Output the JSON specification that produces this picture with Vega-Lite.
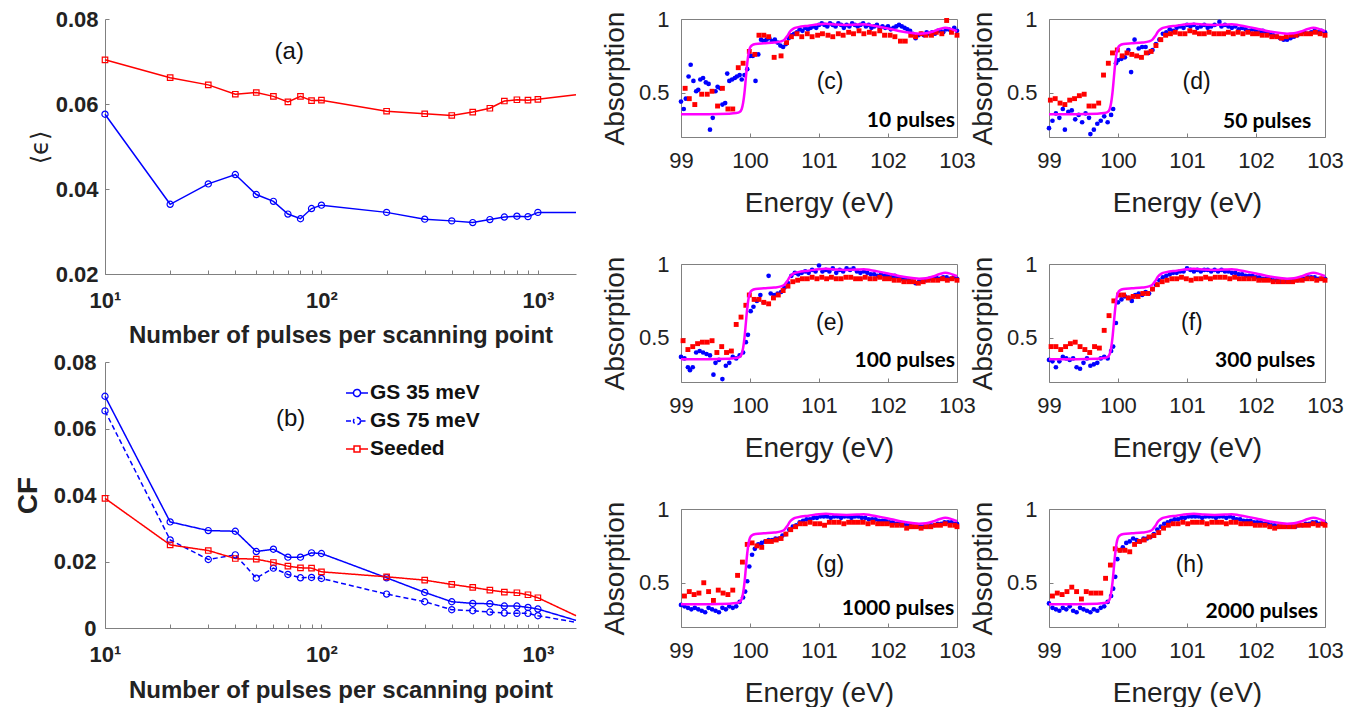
{
"$schema": "https://vega.github.io/schema/vega-lite/v6.json",
"background": "white",
"padding": {"left": 14, "top": 7, "right": 5, "bottom": 5},
"config": {"view": {"stroke": "#808080"}, "axis": {"grid": false, "labelFlush": false, "labelOverlap": false, "labelBound": false}, "font": "Liberation Sans"},
"datasets": {
"a": [
{"n":10,"s":"GS","v":0.0576},{"n":20,"s":"GS","v":0.0364},{"n":30,"s":"GS","v":0.0412},{"n":40,"s":"GS","v":0.0434},{"n":50,"s":"GS","v":0.0387},{"n":60,"s":"GS","v":0.0371},{"n":70,"s":"GS","v":0.0341},{"n":80,"s":"GS","v":0.0330},{"n":90,"s":"GS","v":0.0354},{"n":100,"s":"GS","v":0.0362},{"n":200,"s":"GS","v":0.0345},{"n":300,"s":"GS","v":0.0329},{"n":400,"s":"GS","v":0.0325},{"n":500,"s":"GS","v":0.0321},{"n":600,"s":"GS","v":0.0328},{"n":700,"s":"GS","v":0.0334},{"n":800,"s":"GS","v":0.0336},{"n":900,"s":"GS","v":0.0335},{"n":1000,"s":"GS","v":0.0345},{"n":1500,"s":"GS","v":0.0345},
{"n":10,"s":"Seeded","v":0.0704},{"n":20,"s":"Seeded","v":0.0662},{"n":30,"s":"Seeded","v":0.0645},{"n":40,"s":"Seeded","v":0.0623},{"n":50,"s":"Seeded","v":0.0627},{"n":60,"s":"Seeded","v":0.0618},{"n":70,"s":"Seeded","v":0.0605},{"n":80,"s":"Seeded","v":0.0618},{"n":90,"s":"Seeded","v":0.0608},{"n":100,"s":"Seeded","v":0.0609},{"n":200,"s":"Seeded","v":0.0583},{"n":300,"s":"Seeded","v":0.0577},{"n":400,"s":"Seeded","v":0.0573},{"n":500,"s":"Seeded","v":0.0581},{"n":600,"s":"Seeded","v":0.0590},{"n":700,"s":"Seeded","v":0.0607},{"n":800,"s":"Seeded","v":0.0610},{"n":900,"s":"Seeded","v":0.0609},{"n":1000,"s":"Seeded","v":0.0611},{"n":1500,"s":"Seeded","v":0.0622}
],
"b": [
{"n":10,"s":"GS 35 meV","v":0.0697},{"n":20,"s":"GS 35 meV","v":0.0319},{"n":30,"s":"GS 35 meV","v":0.0293},{"n":40,"s":"GS 35 meV","v":0.0291},{"n":50,"s":"GS 35 meV","v":0.0230},{"n":60,"s":"GS 35 meV","v":0.0237},{"n":70,"s":"GS 35 meV","v":0.0213},{"n":80,"s":"GS 35 meV","v":0.0213},{"n":90,"s":"GS 35 meV","v":0.0226},{"n":100,"s":"GS 35 meV","v":0.0224},{"n":200,"s":"GS 35 meV","v":0.0151},{"n":300,"s":"GS 35 meV","v":0.0107},{"n":400,"s":"GS 35 meV","v":0.0079},{"n":500,"s":"GS 35 meV","v":0.0074},{"n":600,"s":"GS 35 meV","v":0.0073},{"n":700,"s":"GS 35 meV","v":0.0066},{"n":800,"s":"GS 35 meV","v":0.0066},{"n":900,"s":"GS 35 meV","v":0.0062},{"n":1000,"s":"GS 35 meV","v":0.0057},{"n":1500,"s":"GS 35 meV","v":0.0023},
{"n":10,"s":"GS 75 meV","v":0.0653},{"n":20,"s":"GS 75 meV","v":0.0265},{"n":30,"s":"GS 75 meV","v":0.0206},{"n":40,"s":"GS 75 meV","v":0.0220},{"n":50,"s":"GS 75 meV","v":0.0150},{"n":60,"s":"GS 75 meV","v":0.0180},{"n":70,"s":"GS 75 meV","v":0.0161},{"n":80,"s":"GS 75 meV","v":0.0151},{"n":90,"s":"GS 75 meV","v":0.0152},{"n":100,"s":"GS 75 meV","v":0.0149},{"n":200,"s":"GS 75 meV","v":0.0102},{"n":300,"s":"GS 75 meV","v":0.0079},{"n":400,"s":"GS 75 meV","v":0.0055},{"n":500,"s":"GS 75 meV","v":0.0052},{"n":600,"s":"GS 75 meV","v":0.0048},{"n":700,"s":"GS 75 meV","v":0.0045},{"n":800,"s":"GS 75 meV","v":0.0044},{"n":900,"s":"GS 75 meV","v":0.0044},{"n":1000,"s":"GS 75 meV","v":0.0037},{"n":1500,"s":"GS 75 meV","v":0.0017},
{"n":10,"s":"Seeded","v":0.0390},{"n":20,"s":"Seeded","v":0.0250},{"n":30,"s":"Seeded","v":0.0233},{"n":40,"s":"Seeded","v":0.0209},{"n":50,"s":"Seeded","v":0.0207},{"n":60,"s":"Seeded","v":0.0197},{"n":70,"s":"Seeded","v":0.0186},{"n":80,"s":"Seeded","v":0.0181},{"n":90,"s":"Seeded","v":0.0180},{"n":100,"s":"Seeded","v":0.0169},{"n":200,"s":"Seeded","v":0.0154},{"n":300,"s":"Seeded","v":0.0144},{"n":400,"s":"Seeded","v":0.0131},{"n":500,"s":"Seeded","v":0.0122},{"n":600,"s":"Seeded","v":0.0114},{"n":700,"s":"Seeded","v":0.0108},{"n":800,"s":"Seeded","v":0.0106},{"n":900,"s":"Seeded","v":0.0100},{"n":1000,"s":"Seeded","v":0.0091},{"n":1500,"s":"Seeded","v":0.0037}
],
"th": [
{"e":99.00,"v":0.355},{"e":99.40,"v":0.355},{"e":99.70,"v":0.358},{"e":99.80,"v":0.362},{"e":99.85,"v":0.37},{"e":99.88,"v":0.39},{"e":99.90,"v":0.43},{"e":99.92,"v":0.50},{"e":99.94,"v":0.60},{"e":99.96,"v":0.70},{"e":99.98,"v":0.77},{"e":100.00,"v":0.805},{"e":100.03,"v":0.822},{"e":100.08,"v":0.83},{"e":100.20,"v":0.835},{"e":100.35,"v":0.84},{"e":100.45,"v":0.848},{"e":100.50,"v":0.86},{"e":100.54,"v":0.885},{"e":100.58,"v":0.915},{"e":100.63,"v":0.935},{"e":100.70,"v":0.945},{"e":100.85,"v":0.955},{"e":101.00,"v":0.965},{"e":101.10,"v":0.968},{"e":101.25,"v":0.962},{"e":101.40,"v":0.96},{"e":101.55,"v":0.962},{"e":101.65,"v":0.965},{"e":101.75,"v":0.958},{"e":101.90,"v":0.945},{"e":102.05,"v":0.93},{"e":102.20,"v":0.915},{"e":102.35,"v":0.905},{"e":102.45,"v":0.9},{"e":102.55,"v":0.903},{"e":102.65,"v":0.915},{"e":102.75,"v":0.932},{"e":102.83,"v":0.94},{"e":102.90,"v":0.935},{"e":102.96,"v":0.925},{"e":103.00,"v":0.918}
],
"c": [
{"s":"b","e":99.00,"v":0.44},{"s":"b","e":99.04,"v":0.39},{"s":"b","e":99.07,"v":0.46},{"s":"b","e":99.11,"v":0.61},{"s":"b","e":99.14,"v":0.69},{"s":"b","e":99.18,"v":0.58},{"s":"b","e":99.22,"v":0.51},{"s":"b","e":99.25,"v":0.52},{"s":"b","e":99.28,"v":0.59},{"s":"b","e":99.32,"v":0.60},{"s":"b","e":99.36,"v":0.57},{"s":"b","e":99.40,"v":0.56},{"s":"b","e":99.42,"v":0.25},{"s":"b","e":99.46,"v":0.33},{"s":"b","e":99.50,"v":0.51},{"s":"b","e":99.53,"v":0.54},{"s":"b","e":99.57,"v":0.53},{"s":"b","e":99.60,"v":0.42},{"s":"b","e":99.64,"v":0.43},{"s":"b","e":99.67,"v":0.63},{"s":"b","e":99.70,"v":0.58},{"s":"b","e":99.74,"v":0.59},{"s":"b","e":99.78,"v":0.60},{"s":"b","e":99.81,"v":0.61},{"s":"b","e":99.85,"v":0.62},{"s":"b","e":99.88,"v":0.59},{"s":"b","e":99.92,"v":0.62},{"s":"b","e":99.96,"v":0.66},{"s":"b","e":100.00,"v":0.75},{"s":"b","e":100.04,"v":0.75},{"s":"b","e":100.08,"v":0.58},{"s":"b","e":100.12,"v":0.76},{"s":"b","e":100.16,"v":0.86},{"s":"b","e":100.20,"v":0.85},{"s":"b","e":100.24,"v":0.86},{"s":"b","e":100.28,"v":0.87},{"s":"b","e":100.32,"v":0.85},{"s":"b","e":100.36,"v":0.86},{"s":"b","e":100.40,"v":0.84},{"s":"b","e":100.44,"v":0.82},{"s":"b","e":100.48,"v":0.81},{"s":"b","e":100.52,"v":0.83},{"s":"b","e":100.56,"v":0.87},{"s":"b","e":100.60,"v":0.89},{"s":"b","e":100.64,"v":0.90},{"s":"b","e":100.68,"v":0.91},{"s":"b","e":100.72,"v":0.93},{"s":"b","e":100.76,"v":0.92},{"s":"b","e":100.80,"v":0.94},{"s":"b","e":100.84,"v":0.93},{"s":"b","e":100.88,"v":0.94},{"s":"b","e":100.92,"v":0.95},{"s":"b","e":100.96,"v":0.94},{"s":"b","e":101.00,"v":0.96},{"s":"b","e":101.04,"v":0.97},{"s":"b","e":101.08,"v":0.96},{"s":"b","e":101.12,"v":0.95},{"s":"b","e":101.16,"v":0.97},{"s":"b","e":101.20,"v":0.96},{"s":"b","e":101.24,"v":0.95},{"s":"b","e":101.28,"v":0.97},{"s":"b","e":101.32,"v":0.96},{"s":"b","e":101.36,"v":0.94},{"s":"b","e":101.40,"v":0.96},{"s":"b","e":101.44,"v":0.95},{"s":"b","e":101.48,"v":0.97},{"s":"b","e":101.52,"v":0.96},{"s":"b","e":101.56,"v":0.95},{"s":"b","e":101.60,"v":0.96},{"s":"b","e":101.64,"v":0.97},{"s":"b","e":101.68,"v":0.95},{"s":"b","e":101.72,"v":0.96},{"s":"b","e":101.76,"v":0.94},{"s":"b","e":101.80,"v":0.95},{"s":"b","e":101.84,"v":0.96},{"s":"b","e":101.88,"v":0.94},{"s":"b","e":101.92,"v":0.95},{"s":"b","e":101.96,"v":0.94},{"s":"b","e":102.00,"v":0.95},{"s":"b","e":102.04,"v":0.93},{"s":"b","e":102.08,"v":0.94},{"s":"b","e":102.12,"v":0.95},{"s":"b","e":102.16,"v":0.96},{"s":"b","e":102.20,"v":0.95},{"s":"b","e":102.24,"v":0.94},{"s":"b","e":102.28,"v":0.93},{"s":"b","e":102.32,"v":0.92},{"s":"b","e":102.36,"v":0.90},{"s":"b","e":102.40,"v":0.87},{"s":"b","e":102.44,"v":0.89},{"s":"b","e":102.48,"v":0.90},{"s":"b","e":102.52,"v":0.89},{"s":"b","e":102.56,"v":0.91},{"s":"b","e":102.60,"v":0.90},{"s":"b","e":102.64,"v":0.91},{"s":"b","e":102.68,"v":0.90},{"s":"b","e":102.72,"v":0.92},{"s":"b","e":102.76,"v":0.92},{"s":"b","e":102.80,"v":0.91},{"s":"b","e":102.84,"v":0.93},{"s":"b","e":102.88,"v":0.93},{"s":"b","e":102.92,"v":0.92},{"s":"b","e":102.96,"v":0.94},{"s":"b","e":103.00,"v":0.92},
{"s":"r","e":99.06,"v":0.53},{"s":"r","e":99.12,"v":0.46},{"s":"r","e":99.20,"v":0.42},{"s":"r","e":99.30,"v":0.49},{"s":"r","e":99.38,"v":0.49},{"s":"r","e":99.45,"v":0.51},{"s":"r","e":99.53,"v":0.41},{"s":"r","e":99.60,"v":0.53},{"s":"r","e":99.68,"v":0.39},{"s":"r","e":99.75,"v":0.39},{"s":"r","e":99.83,"v":0.67},{"s":"r","e":99.90,"v":0.70},{"s":"r","e":99.99,"v":0.78},{"s":"r","e":100.07,"v":0.76},{"s":"r","e":100.13,"v":0.89},{"s":"r","e":100.20,"v":0.89},{"s":"r","e":100.27,"v":0.88},{"s":"r","e":100.35,"v":0.74},{"s":"r","e":100.45,"v":0.75},{"s":"r","e":100.53,"v":0.84},{"s":"r","e":100.60,"v":0.88},{"s":"r","e":100.68,"v":0.90},{"s":"r","e":100.75,"v":0.88},{"s":"r","e":100.83,"v":0.90},{"s":"r","e":100.90,"v":0.88},{"s":"r","e":100.98,"v":0.89},{"s":"r","e":101.05,"v":0.90},{"s":"r","e":101.13,"v":0.89},{"s":"r","e":101.20,"v":0.88},{"s":"r","e":101.28,"v":0.90},{"s":"r","e":101.35,"v":0.89},{"s":"r","e":101.43,"v":0.91},{"s":"r","e":101.50,"v":0.90},{"s":"r","e":101.58,"v":0.92},{"s":"r","e":101.65,"v":0.90},{"s":"r","e":101.73,"v":0.91},{"s":"r","e":101.80,"v":0.90},{"s":"r","e":101.88,"v":0.92},{"s":"r","e":101.95,"v":0.89},{"s":"r","e":102.03,"v":0.89},{"s":"r","e":102.10,"v":0.88},{"s":"r","e":102.18,"v":0.85},{"s":"r","e":102.25,"v":0.85},{"s":"r","e":102.33,"v":0.89},{"s":"r","e":102.40,"v":0.88},{"s":"r","e":102.48,"v":0.90},{"s":"r","e":102.55,"v":0.89},{"s":"r","e":102.63,"v":0.89},{"s":"r","e":102.70,"v":0.91},{"s":"r","e":102.78,"v":0.90},{"s":"r","e":102.85,"v":0.99},{"s":"r","e":102.92,"v":0.91},{"s":"r","e":103.00,"v":0.89}
],
"d": [
{"s":"b","e":99.00,"v":0.26},{"s":"b","e":99.05,"v":0.31},{"s":"b","e":99.10,"v":0.36},{"s":"b","e":99.15,"v":0.33},{"s":"b","e":99.20,"v":0.39},{"s":"b","e":99.23,"v":0.25},{"s":"b","e":99.28,"v":0.37},{"s":"b","e":99.33,"v":0.38},{"s":"b","e":99.38,"v":0.32},{"s":"b","e":99.43,"v":0.35},{"s":"b","e":99.48,"v":0.30},{"s":"b","e":99.53,"v":0.36},{"s":"b","e":99.58,"v":0.33},{"s":"b","e":99.60,"v":0.22},{"s":"b","e":99.65,"v":0.25},{"s":"b","e":99.70,"v":0.29},{"s":"b","e":99.75,"v":0.31},{"s":"b","e":99.80,"v":0.34},{"s":"b","e":99.85,"v":0.30},{"s":"b","e":99.90,"v":0.35},{"s":"b","e":99.93,"v":0.39},{"s":"b","e":99.97,"v":0.70},{"s":"b","e":100.00,"v":0.72},{"s":"b","e":100.05,"v":0.73},{"s":"b","e":100.10,"v":0.74},{"s":"b","e":100.15,"v":0.79},{"s":"b","e":100.19,"v":0.64},{"s":"b","e":100.24,"v":0.86},{"s":"b","e":100.30,"v":0.80},{"s":"b","e":100.35,"v":0.81},{"s":"b","e":100.40,"v":0.81},{"s":"b","e":100.44,"v":0.77},{"s":"b","e":100.50,"v":0.79},{"s":"b","e":100.55,"v":0.83},{"s":"b","e":100.60,"v":0.86},{"s":"b","e":100.65,"v":0.90},{"s":"b","e":100.70,"v":0.91},{"s":"b","e":100.75,"v":0.93},{"s":"b","e":100.80,"v":0.92},{"s":"b","e":100.85,"v":0.94},{"s":"b","e":100.90,"v":0.95},{"s":"b","e":100.95,"v":0.94},{"s":"b","e":101.00,"v":0.96},{"s":"b","e":101.05,"v":0.95},{"s":"b","e":101.10,"v":0.96},{"s":"b","e":101.15,"v":0.94},{"s":"b","e":101.20,"v":0.95},{"s":"b","e":101.25,"v":0.96},{"s":"b","e":101.30,"v":0.94},{"s":"b","e":101.35,"v":0.95},{"s":"b","e":101.40,"v":0.96},{"s":"b","e":101.47,"v":0.98},{"s":"b","e":101.50,"v":0.95},{"s":"b","e":101.55,"v":0.96},{"s":"b","e":101.60,"v":0.95},{"s":"b","e":101.65,"v":0.94},{"s":"b","e":101.70,"v":0.95},{"s":"b","e":101.75,"v":0.93},{"s":"b","e":101.80,"v":0.94},{"s":"b","e":101.85,"v":0.93},{"s":"b","e":101.90,"v":0.92},{"s":"b","e":101.95,"v":0.93},{"s":"b","e":102.00,"v":0.92},{"s":"b","e":102.05,"v":0.91},{"s":"b","e":102.10,"v":0.92},{"s":"b","e":102.15,"v":0.91},{"s":"b","e":102.20,"v":0.90},{"s":"b","e":102.25,"v":0.89},{"s":"b","e":102.30,"v":0.88},{"s":"b","e":102.35,"v":0.87},{"s":"b","e":102.40,"v":0.86},{"s":"b","e":102.45,"v":0.86},{"s":"b","e":102.50,"v":0.87},{"s":"b","e":102.55,"v":0.88},{"s":"b","e":102.60,"v":0.89},{"s":"b","e":102.65,"v":0.90},{"s":"b","e":102.70,"v":0.91},{"s":"b","e":102.75,"v":0.90},{"s":"b","e":102.80,"v":0.91},{"s":"b","e":102.85,"v":0.92},{"s":"b","e":102.90,"v":0.91},{"s":"b","e":102.95,"v":0.92},{"s":"b","e":103.00,"v":0.91},
{"s":"r","e":99.02,"v":0.45},{"s":"r","e":99.09,"v":0.46},{"s":"r","e":99.16,"v":0.43},{"s":"r","e":99.23,"v":0.42},{"s":"r","e":99.30,"v":0.45},{"s":"r","e":99.37,"v":0.46},{"s":"r","e":99.44,"v":0.48},{"s":"r","e":99.51,"v":0.49},{"s":"r","e":99.58,"v":0.41},{"s":"r","e":99.65,"v":0.41},{"s":"r","e":99.72,"v":0.43},{"s":"r","e":99.79,"v":0.62},{"s":"r","e":99.86,"v":0.70},{"s":"r","e":99.92,"v":0.77},{"s":"r","e":99.99,"v":0.79},{"s":"r","e":100.06,"v":0.75},{"s":"r","e":100.13,"v":0.77},{"s":"r","e":100.20,"v":0.76},{"s":"r","e":100.27,"v":0.75},{"s":"r","e":100.34,"v":0.74},{"s":"r","e":100.41,"v":0.77},{"s":"r","e":100.48,"v":0.78},{"s":"r","e":100.55,"v":0.82},{"s":"r","e":100.62,"v":0.86},{"s":"r","e":100.69,"v":0.89},{"s":"r","e":100.76,"v":0.90},{"s":"r","e":100.83,"v":0.91},{"s":"r","e":100.90,"v":0.90},{"s":"r","e":100.97,"v":0.90},{"s":"r","e":101.04,"v":0.92},{"s":"r","e":101.11,"v":0.91},{"s":"r","e":101.18,"v":0.90},{"s":"r","e":101.25,"v":0.90},{"s":"r","e":101.32,"v":0.91},{"s":"r","e":101.39,"v":0.90},{"s":"r","e":101.46,"v":0.90},{"s":"r","e":101.53,"v":0.90},{"s":"r","e":101.60,"v":0.91},{"s":"r","e":101.67,"v":0.90},{"s":"r","e":101.74,"v":0.91},{"s":"r","e":101.81,"v":0.90},{"s":"r","e":101.88,"v":0.91},{"s":"r","e":101.95,"v":0.90},{"s":"r","e":102.02,"v":0.90},{"s":"r","e":102.09,"v":0.89},{"s":"r","e":102.16,"v":0.89},{"s":"r","e":102.23,"v":0.88},{"s":"r","e":102.30,"v":0.88},{"s":"r","e":102.37,"v":0.87},{"s":"r","e":102.44,"v":0.88},{"s":"r","e":102.51,"v":0.89},{"s":"r","e":102.58,"v":0.89},{"s":"r","e":102.65,"v":0.90},{"s":"r","e":102.72,"v":0.90},{"s":"r","e":102.79,"v":0.90},{"s":"r","e":102.86,"v":0.91},{"s":"r","e":102.93,"v":0.90},{"s":"r","e":103.00,"v":0.89}
],
"e": [
{"s":"b","e":99.00,"v":0.37},{"s":"b","e":99.05,"v":0.36},{"s":"b","e":99.10,"v":0.30},{"s":"b","e":99.13,"v":0.28},{"s":"b","e":99.17,"v":0.30},{"s":"b","e":99.22,"v":0.40},{"s":"b","e":99.27,"v":0.41},{"s":"b","e":99.32,"v":0.40},{"s":"b","e":99.37,"v":0.39},{"s":"b","e":99.42,"v":0.38},{"s":"b","e":99.47,"v":0.25},{"s":"b","e":99.50,"v":0.33},{"s":"b","e":99.55,"v":0.35},{"s":"b","e":99.60,"v":0.22},{"s":"b","e":99.65,"v":0.31},{"s":"b","e":99.70,"v":0.33},{"s":"b","e":99.75,"v":0.37},{"s":"b","e":99.80,"v":0.36},{"s":"b","e":99.85,"v":0.38},{"s":"b","e":99.90,"v":0.40},{"s":"b","e":99.94,"v":0.47},{"s":"b","e":99.97,"v":0.52},{"s":"b","e":100.01,"v":0.68},{"s":"b","e":100.05,"v":0.71},{"s":"b","e":100.10,"v":0.75},{"s":"b","e":100.15,"v":0.79},{"s":"b","e":100.20,"v":0.74},{"s":"b","e":100.27,"v":0.92},{"s":"b","e":100.30,"v":0.80},{"s":"b","e":100.35,"v":0.79},{"s":"b","e":100.40,"v":0.80},{"s":"b","e":100.45,"v":0.81},{"s":"b","e":100.50,"v":0.84},{"s":"b","e":100.55,"v":0.87},{"s":"b","e":100.60,"v":0.92},{"s":"b","e":100.65,"v":0.94},{"s":"b","e":100.70,"v":0.93},{"s":"b","e":100.75,"v":0.94},{"s":"b","e":100.80,"v":0.95},{"s":"b","e":100.85,"v":0.94},{"s":"b","e":100.90,"v":0.96},{"s":"b","e":100.95,"v":0.95},{"s":"b","e":101.00,"v":0.99},{"s":"b","e":101.05,"v":0.95},{"s":"b","e":101.10,"v":0.96},{"s":"b","e":101.15,"v":0.95},{"s":"b","e":101.20,"v":0.97},{"s":"b","e":101.25,"v":0.94},{"s":"b","e":101.30,"v":0.96},{"s":"b","e":101.35,"v":0.95},{"s":"b","e":101.40,"v":0.97},{"s":"b","e":101.45,"v":0.96},{"s":"b","e":101.50,"v":0.97},{"s":"b","e":101.55,"v":0.95},{"s":"b","e":101.60,"v":0.94},{"s":"b","e":101.65,"v":0.95},{"s":"b","e":101.70,"v":0.94},{"s":"b","e":101.75,"v":0.93},{"s":"b","e":101.80,"v":0.93},{"s":"b","e":101.85,"v":0.92},{"s":"b","e":101.90,"v":0.93},{"s":"b","e":101.95,"v":0.92},{"s":"b","e":102.00,"v":0.92},{"s":"b","e":102.05,"v":0.91},{"s":"b","e":102.10,"v":0.92},{"s":"b","e":102.15,"v":0.91},{"s":"b","e":102.20,"v":0.90},{"s":"b","e":102.25,"v":0.90},{"s":"b","e":102.30,"v":0.89},{"s":"b","e":102.35,"v":0.88},{"s":"b","e":102.40,"v":0.87},{"s":"b","e":102.45,"v":0.88},{"s":"b","e":102.50,"v":0.88},{"s":"b","e":102.55,"v":0.89},{"s":"b","e":102.60,"v":0.90},{"s":"b","e":102.65,"v":0.90},{"s":"b","e":102.70,"v":0.91},{"s":"b","e":102.75,"v":0.90},{"s":"b","e":102.80,"v":0.91},{"s":"b","e":102.85,"v":0.91},{"s":"b","e":102.90,"v":0.90},{"s":"b","e":102.95,"v":0.91},{"s":"b","e":103.00,"v":0.90},
{"s":"r","e":99.03,"v":0.48},{"s":"r","e":99.10,"v":0.42},{"s":"r","e":99.17,"v":0.44},{"s":"r","e":99.24,"v":0.46},{"s":"r","e":99.31,"v":0.47},{"s":"r","e":99.38,"v":0.47},{"s":"r","e":99.45,"v":0.48},{"s":"r","e":99.52,"v":0.40},{"s":"r","e":99.59,"v":0.44},{"s":"r","e":99.66,"v":0.40},{"s":"r","e":99.73,"v":0.41},{"s":"r","e":99.80,"v":0.59},{"s":"r","e":99.87,"v":0.64},{"s":"r","e":99.94,"v":0.72},{"s":"r","e":99.99,"v":0.79},{"s":"r","e":100.06,"v":0.76},{"s":"r","e":100.13,"v":0.76},{"s":"r","e":100.20,"v":0.74},{"s":"r","e":100.27,"v":0.73},{"s":"r","e":100.34,"v":0.77},{"s":"r","e":100.41,"v":0.79},{"s":"r","e":100.48,"v":0.82},{"s":"r","e":100.55,"v":0.85},{"s":"r","e":100.62,"v":0.88},{"s":"r","e":100.69,"v":0.89},{"s":"r","e":100.76,"v":0.90},{"s":"r","e":100.83,"v":0.90},{"s":"r","e":100.90,"v":0.91},{"s":"r","e":100.97,"v":0.90},{"s":"r","e":101.04,"v":0.91},{"s":"r","e":101.11,"v":0.90},{"s":"r","e":101.18,"v":0.91},{"s":"r","e":101.25,"v":0.90},{"s":"r","e":101.32,"v":0.90},{"s":"r","e":101.39,"v":0.91},{"s":"r","e":101.46,"v":0.91},{"s":"r","e":101.53,"v":0.90},{"s":"r","e":101.60,"v":0.90},{"s":"r","e":101.67,"v":0.91},{"s":"r","e":101.74,"v":0.90},{"s":"r","e":101.81,"v":0.90},{"s":"r","e":101.88,"v":0.91},{"s":"r","e":101.95,"v":0.90},{"s":"r","e":102.02,"v":0.90},{"s":"r","e":102.09,"v":0.89},{"s":"r","e":102.16,"v":0.89},{"s":"r","e":102.23,"v":0.88},{"s":"r","e":102.30,"v":0.88},{"s":"r","e":102.37,"v":0.88},{"s":"r","e":102.44,"v":0.87},{"s":"r","e":102.51,"v":0.88},{"s":"r","e":102.58,"v":0.89},{"s":"r","e":102.65,"v":0.89},{"s":"r","e":102.72,"v":0.89},{"s":"r","e":102.79,"v":0.90},{"s":"r","e":102.86,"v":0.89},{"s":"r","e":102.93,"v":0.90},{"s":"r","e":103.00,"v":0.89}
],
"f": [
{"s":"b","e":99.00,"v":0.35},{"s":"b","e":99.05,"v":0.34},{"s":"b","e":99.10,"v":0.30},{"s":"b","e":99.15,"v":0.34},{"s":"b","e":99.20,"v":0.37},{"s":"b","e":99.25,"v":0.36},{"s":"b","e":99.30,"v":0.35},{"s":"b","e":99.35,"v":0.36},{"s":"b","e":99.40,"v":0.30},{"s":"b","e":99.45,"v":0.29},{"s":"b","e":99.50,"v":0.33},{"s":"b","e":99.55,"v":0.36},{"s":"b","e":99.60,"v":0.31},{"s":"b","e":99.65,"v":0.32},{"s":"b","e":99.70,"v":0.33},{"s":"b","e":99.75,"v":0.36},{"s":"b","e":99.80,"v":0.37},{"s":"b","e":99.85,"v":0.36},{"s":"b","e":99.90,"v":0.41},{"s":"b","e":99.93,"v":0.44},{"s":"b","e":99.97,"v":0.60},{"s":"b","e":100.00,"v":0.74},{"s":"b","e":100.05,"v":0.76},{"s":"b","e":100.10,"v":0.78},{"s":"b","e":100.15,"v":0.77},{"s":"b","e":100.20,"v":0.75},{"s":"b","e":100.25,"v":0.79},{"s":"b","e":100.30,"v":0.80},{"s":"b","e":100.35,"v":0.79},{"s":"b","e":100.40,"v":0.81},{"s":"b","e":100.45,"v":0.80},{"s":"b","e":100.50,"v":0.83},{"s":"b","e":100.55,"v":0.86},{"s":"b","e":100.60,"v":0.89},{"s":"b","e":100.65,"v":0.91},{"s":"b","e":100.70,"v":0.92},{"s":"b","e":100.75,"v":0.93},{"s":"b","e":100.80,"v":0.94},{"s":"b","e":100.85,"v":0.94},{"s":"b","e":100.90,"v":0.95},{"s":"b","e":100.95,"v":0.95},{"s":"b","e":101.00,"v":0.97},{"s":"b","e":101.05,"v":0.96},{"s":"b","e":101.10,"v":0.95},{"s":"b","e":101.15,"v":0.96},{"s":"b","e":101.20,"v":0.95},{"s":"b","e":101.25,"v":0.96},{"s":"b","e":101.30,"v":0.96},{"s":"b","e":101.35,"v":0.95},{"s":"b","e":101.40,"v":0.96},{"s":"b","e":101.45,"v":0.95},{"s":"b","e":101.50,"v":0.96},{"s":"b","e":101.55,"v":0.95},{"s":"b","e":101.60,"v":0.95},{"s":"b","e":101.65,"v":0.94},{"s":"b","e":101.70,"v":0.94},{"s":"b","e":101.75,"v":0.93},{"s":"b","e":101.80,"v":0.93},{"s":"b","e":101.85,"v":0.92},{"s":"b","e":101.90,"v":0.92},{"s":"b","e":101.95,"v":0.92},{"s":"b","e":102.00,"v":0.91},{"s":"b","e":102.05,"v":0.91},{"s":"b","e":102.10,"v":0.90},{"s":"b","e":102.15,"v":0.90},{"s":"b","e":102.20,"v":0.90},{"s":"b","e":102.25,"v":0.89},{"s":"b","e":102.30,"v":0.89},{"s":"b","e":102.35,"v":0.88},{"s":"b","e":102.40,"v":0.88},{"s":"b","e":102.45,"v":0.88},{"s":"b","e":102.50,"v":0.88},{"s":"b","e":102.55,"v":0.89},{"s":"b","e":102.60,"v":0.89},{"s":"b","e":102.65,"v":0.90},{"s":"b","e":102.70,"v":0.90},{"s":"b","e":102.75,"v":0.91},{"s":"b","e":102.80,"v":0.91},{"s":"b","e":102.85,"v":0.91},{"s":"b","e":102.90,"v":0.90},{"s":"b","e":102.95,"v":0.90},{"s":"b","e":103.00,"v":0.90},
{"s":"r","e":99.03,"v":0.44},{"s":"r","e":99.10,"v":0.44},{"s":"r","e":99.17,"v":0.42},{"s":"r","e":99.24,"v":0.44},{"s":"r","e":99.31,"v":0.46},{"s":"r","e":99.38,"v":0.47},{"s":"r","e":99.45,"v":0.44},{"s":"r","e":99.52,"v":0.42},{"s":"r","e":99.59,"v":0.40},{"s":"r","e":99.66,"v":0.44},{"s":"r","e":99.73,"v":0.43},{"s":"r","e":99.80,"v":0.55},{"s":"r","e":99.87,"v":0.65},{"s":"r","e":99.94,"v":0.75},{"s":"r","e":100.01,"v":0.79},{"s":"r","e":100.08,"v":0.79},{"s":"r","e":100.15,"v":0.77},{"s":"r","e":100.22,"v":0.78},{"s":"r","e":100.29,"v":0.78},{"s":"r","e":100.36,"v":0.80},{"s":"r","e":100.43,"v":0.80},{"s":"r","e":100.50,"v":0.83},{"s":"r","e":100.57,"v":0.86},{"s":"r","e":100.64,"v":0.88},{"s":"r","e":100.71,"v":0.89},{"s":"r","e":100.78,"v":0.90},{"s":"r","e":100.85,"v":0.90},{"s":"r","e":100.92,"v":0.91},{"s":"r","e":100.99,"v":0.90},{"s":"r","e":101.06,"v":0.89},{"s":"r","e":101.13,"v":0.90},{"s":"r","e":101.20,"v":0.90},{"s":"r","e":101.27,"v":0.91},{"s":"r","e":101.34,"v":0.90},{"s":"r","e":101.41,"v":0.91},{"s":"r","e":101.48,"v":0.91},{"s":"r","e":101.55,"v":0.91},{"s":"r","e":101.62,"v":0.90},{"s":"r","e":101.69,"v":0.91},{"s":"r","e":101.76,"v":0.90},{"s":"r","e":101.83,"v":0.90},{"s":"r","e":101.90,"v":0.90},{"s":"r","e":101.97,"v":0.90},{"s":"r","e":102.04,"v":0.89},{"s":"r","e":102.11,"v":0.89},{"s":"r","e":102.18,"v":0.89},{"s":"r","e":102.25,"v":0.88},{"s":"r","e":102.32,"v":0.88},{"s":"r","e":102.39,"v":0.88},{"s":"r","e":102.46,"v":0.88},{"s":"r","e":102.53,"v":0.88},{"s":"r","e":102.60,"v":0.89},{"s":"r","e":102.67,"v":0.89},{"s":"r","e":102.74,"v":0.90},{"s":"r","e":102.81,"v":0.90},{"s":"r","e":102.88,"v":0.89},{"s":"r","e":102.95,"v":0.90},{"s":"r","e":103.00,"v":0.89}
],
"g": [
{"s":"b","e":99.00,"v":0.35},{"s":"b","e":99.05,"v":0.34},{"s":"b","e":99.10,"v":0.33},{"s":"b","e":99.15,"v":0.32},{"s":"b","e":99.20,"v":0.33},{"s":"b","e":99.25,"v":0.32},{"s":"b","e":99.30,"v":0.31},{"s":"b","e":99.35,"v":0.30},{"s":"b","e":99.40,"v":0.33},{"s":"b","e":99.45,"v":0.32},{"s":"b","e":99.50,"v":0.31},{"s":"b","e":99.55,"v":0.30},{"s":"b","e":99.60,"v":0.33},{"s":"b","e":99.65,"v":0.32},{"s":"b","e":99.70,"v":0.34},{"s":"b","e":99.75,"v":0.33},{"s":"b","e":99.80,"v":0.34},{"s":"b","e":99.85,"v":0.37},{"s":"b","e":99.90,"v":0.40},{"s":"b","e":99.93,"v":0.44},{"s":"b","e":99.96,"v":0.51},{"s":"b","e":99.99,"v":0.61},{"s":"b","e":100.03,"v":0.69},{"s":"b","e":100.07,"v":0.73},{"s":"b","e":100.12,"v":0.76},{"s":"b","e":100.17,"v":0.77},{"s":"b","e":100.22,"v":0.78},{"s":"b","e":100.27,"v":0.79},{"s":"b","e":100.32,"v":0.79},{"s":"b","e":100.37,"v":0.80},{"s":"b","e":100.42,"v":0.80},{"s":"b","e":100.47,"v":0.82},{"s":"b","e":100.52,"v":0.83},{"s":"b","e":100.57,"v":0.86},{"s":"b","e":100.62,"v":0.88},{"s":"b","e":100.67,"v":0.89},{"s":"b","e":100.72,"v":0.91},{"s":"b","e":100.77,"v":0.92},{"s":"b","e":100.82,"v":0.93},{"s":"b","e":100.87,"v":0.93},{"s":"b","e":100.92,"v":0.94},{"s":"b","e":100.97,"v":0.94},{"s":"b","e":101.02,"v":0.95},{"s":"b","e":101.07,"v":0.95},{"s":"b","e":101.12,"v":0.95},{"s":"b","e":101.17,"v":0.94},{"s":"b","e":101.22,"v":0.95},{"s":"b","e":101.27,"v":0.95},{"s":"b","e":101.32,"v":0.94},{"s":"b","e":101.37,"v":0.95},{"s":"b","e":101.42,"v":0.95},{"s":"b","e":101.47,"v":0.94},{"s":"b","e":101.52,"v":0.95},{"s":"b","e":101.57,"v":0.95},{"s":"b","e":101.62,"v":0.94},{"s":"b","e":101.67,"v":0.94},{"s":"b","e":101.72,"v":0.93},{"s":"b","e":101.77,"v":0.93},{"s":"b","e":101.82,"v":0.93},{"s":"b","e":101.87,"v":0.92},{"s":"b","e":101.92,"v":0.92},{"s":"b","e":101.97,"v":0.92},{"s":"b","e":102.02,"v":0.91},{"s":"b","e":102.07,"v":0.91},{"s":"b","e":102.12,"v":0.90},{"s":"b","e":102.17,"v":0.90},{"s":"b","e":102.22,"v":0.90},{"s":"b","e":102.27,"v":0.89},{"s":"b","e":102.32,"v":0.89},{"s":"b","e":102.37,"v":0.88},{"s":"b","e":102.42,"v":0.88},{"s":"b","e":102.47,"v":0.88},{"s":"b","e":102.52,"v":0.88},{"s":"b","e":102.57,"v":0.88},{"s":"b","e":102.62,"v":0.89},{"s":"b","e":102.67,"v":0.89},{"s":"b","e":102.72,"v":0.90},{"s":"b","e":102.77,"v":0.90},{"s":"b","e":102.82,"v":0.91},{"s":"b","e":102.87,"v":0.91},{"s":"b","e":102.92,"v":0.91},{"s":"b","e":102.97,"v":0.90},{"s":"b","e":103.00,"v":0.90},
{"s":"r","e":99.05,"v":0.41},{"s":"r","e":99.12,"v":0.44},{"s":"r","e":99.19,"v":0.42},{"s":"r","e":99.26,"v":0.43},{"s":"r","e":99.33,"v":0.50},{"s":"r","e":99.40,"v":0.44},{"s":"r","e":99.47,"v":0.38},{"s":"r","e":99.54,"v":0.45},{"s":"r","e":99.61,"v":0.43},{"s":"r","e":99.68,"v":0.42},{"s":"r","e":99.75,"v":0.45},{"s":"r","e":99.82,"v":0.55},{"s":"r","e":99.89,"v":0.64},{"s":"r","e":99.96,"v":0.76},{"s":"r","e":100.03,"v":0.77},{"s":"r","e":100.10,"v":0.75},{"s":"r","e":100.17,"v":0.74},{"s":"r","e":100.24,"v":0.78},{"s":"r","e":100.31,"v":0.78},{"s":"r","e":100.38,"v":0.79},{"s":"r","e":100.45,"v":0.80},{"s":"r","e":100.52,"v":0.83},{"s":"r","e":100.59,"v":0.86},{"s":"r","e":100.66,"v":0.88},{"s":"r","e":100.73,"v":0.90},{"s":"r","e":100.80,"v":0.90},{"s":"r","e":100.87,"v":0.91},{"s":"r","e":100.94,"v":0.90},{"s":"r","e":101.01,"v":0.90},{"s":"r","e":101.08,"v":0.89},{"s":"r","e":101.15,"v":0.91},{"s":"r","e":101.22,"v":0.91},{"s":"r","e":101.29,"v":0.91},{"s":"r","e":101.36,"v":0.90},{"s":"r","e":101.43,"v":0.91},{"s":"r","e":101.50,"v":0.91},{"s":"r","e":101.57,"v":0.91},{"s":"r","e":101.64,"v":0.91},{"s":"r","e":101.71,"v":0.90},{"s":"r","e":101.78,"v":0.91},{"s":"r","e":101.85,"v":0.90},{"s":"r","e":101.92,"v":0.90},{"s":"r","e":101.99,"v":0.90},{"s":"r","e":102.06,"v":0.89},{"s":"r","e":102.13,"v":0.89},{"s":"r","e":102.20,"v":0.89},{"s":"r","e":102.27,"v":0.87},{"s":"r","e":102.34,"v":0.88},{"s":"r","e":102.41,"v":0.88},{"s":"r","e":102.48,"v":0.87},{"s":"r","e":102.55,"v":0.88},{"s":"r","e":102.62,"v":0.88},{"s":"r","e":102.69,"v":0.89},{"s":"r","e":102.76,"v":0.89},{"s":"r","e":102.83,"v":0.90},{"s":"r","e":102.90,"v":0.89},{"s":"r","e":102.97,"v":0.89},{"s":"r","e":103.00,"v":0.88}
],
"h": [
{"s":"b","e":99.00,"v":0.36},{"s":"b","e":99.05,"v":0.33},{"s":"b","e":99.10,"v":0.32},{"s":"b","e":99.15,"v":0.31},{"s":"b","e":99.20,"v":0.33},{"s":"b","e":99.25,"v":0.32},{"s":"b","e":99.30,"v":0.34},{"s":"b","e":99.35,"v":0.31},{"s":"b","e":99.40,"v":0.30},{"s":"b","e":99.45,"v":0.33},{"s":"b","e":99.50,"v":0.32},{"s":"b","e":99.55,"v":0.31},{"s":"b","e":99.60,"v":0.30},{"s":"b","e":99.65,"v":0.32},{"s":"b","e":99.70,"v":0.31},{"s":"b","e":99.75,"v":0.33},{"s":"b","e":99.80,"v":0.34},{"s":"b","e":99.85,"v":0.37},{"s":"b","e":99.90,"v":0.41},{"s":"b","e":99.93,"v":0.46},{"s":"b","e":99.96,"v":0.54},{"s":"b","e":99.99,"v":0.66},{"s":"b","e":100.03,"v":0.72},{"s":"b","e":100.07,"v":0.74},{"s":"b","e":100.12,"v":0.77},{"s":"b","e":100.17,"v":0.78},{"s":"b","e":100.22,"v":0.80},{"s":"b","e":100.27,"v":0.79},{"s":"b","e":100.32,"v":0.78},{"s":"b","e":100.37,"v":0.80},{"s":"b","e":100.42,"v":0.80},{"s":"b","e":100.47,"v":0.81},{"s":"b","e":100.52,"v":0.83},{"s":"b","e":100.57,"v":0.86},{"s":"b","e":100.62,"v":0.88},{"s":"b","e":100.67,"v":0.90},{"s":"b","e":100.72,"v":0.91},{"s":"b","e":100.77,"v":0.92},{"s":"b","e":100.82,"v":0.93},{"s":"b","e":100.87,"v":0.93},{"s":"b","e":100.92,"v":0.94},{"s":"b","e":100.97,"v":0.94},{"s":"b","e":101.02,"v":0.95},{"s":"b","e":101.07,"v":0.95},{"s":"b","e":101.12,"v":0.95},{"s":"b","e":101.17,"v":0.95},{"s":"b","e":101.22,"v":0.94},{"s":"b","e":101.27,"v":0.95},{"s":"b","e":101.32,"v":0.95},{"s":"b","e":101.37,"v":0.95},{"s":"b","e":101.42,"v":0.94},{"s":"b","e":101.47,"v":0.95},{"s":"b","e":101.52,"v":0.95},{"s":"b","e":101.57,"v":0.94},{"s":"b","e":101.62,"v":0.95},{"s":"b","e":101.67,"v":0.94},{"s":"b","e":101.72,"v":0.93},{"s":"b","e":101.77,"v":0.93},{"s":"b","e":101.82,"v":0.92},{"s":"b","e":101.87,"v":0.92},{"s":"b","e":101.92,"v":0.92},{"s":"b","e":101.97,"v":0.91},{"s":"b","e":102.02,"v":0.91},{"s":"b","e":102.07,"v":0.91},{"s":"b","e":102.12,"v":0.90},{"s":"b","e":102.17,"v":0.90},{"s":"b","e":102.22,"v":0.89},{"s":"b","e":102.27,"v":0.89},{"s":"b","e":102.32,"v":0.88},{"s":"b","e":102.37,"v":0.88},{"s":"b","e":102.42,"v":0.88},{"s":"b","e":102.47,"v":0.88},{"s":"b","e":102.52,"v":0.88},{"s":"b","e":102.57,"v":0.88},{"s":"b","e":102.62,"v":0.89},{"s":"b","e":102.67,"v":0.89},{"s":"b","e":102.72,"v":0.90},{"s":"b","e":102.77,"v":0.90},{"s":"b","e":102.82,"v":0.91},{"s":"b","e":102.87,"v":0.91},{"s":"b","e":102.92,"v":0.90},{"s":"b","e":102.97,"v":0.90},{"s":"b","e":103.00,"v":0.90},
{"s":"r","e":99.05,"v":0.41},{"s":"r","e":99.12,"v":0.43},{"s":"r","e":99.19,"v":0.42},{"s":"r","e":99.26,"v":0.44},{"s":"r","e":99.33,"v":0.47},{"s":"r","e":99.40,"v":0.44},{"s":"r","e":99.47,"v":0.39},{"s":"r","e":99.54,"v":0.44},{"s":"r","e":99.61,"v":0.43},{"s":"r","e":99.68,"v":0.43},{"s":"r","e":99.75,"v":0.43},{"s":"r","e":99.82,"v":0.53},{"s":"r","e":99.89,"v":0.62},{"s":"r","e":99.96,"v":0.73},{"s":"r","e":100.03,"v":0.72},{"s":"r","e":100.10,"v":0.72},{"s":"r","e":100.17,"v":0.71},{"s":"r","e":100.24,"v":0.76},{"s":"r","e":100.31,"v":0.78},{"s":"r","e":100.38,"v":0.79},{"s":"r","e":100.45,"v":0.81},{"s":"r","e":100.52,"v":0.82},{"s":"r","e":100.59,"v":0.84},{"s":"r","e":100.66,"v":0.87},{"s":"r","e":100.73,"v":0.89},{"s":"r","e":100.80,"v":0.90},{"s":"r","e":100.87,"v":0.90},{"s":"r","e":100.94,"v":0.91},{"s":"r","e":101.01,"v":0.90},{"s":"r","e":101.08,"v":0.91},{"s":"r","e":101.15,"v":0.91},{"s":"r","e":101.22,"v":0.91},{"s":"r","e":101.29,"v":0.90},{"s":"r","e":101.36,"v":0.91},{"s":"r","e":101.43,"v":0.91},{"s":"r","e":101.50,"v":0.91},{"s":"r","e":101.57,"v":0.90},{"s":"r","e":101.64,"v":0.91},{"s":"r","e":101.71,"v":0.91},{"s":"r","e":101.78,"v":0.90},{"s":"r","e":101.85,"v":0.90},{"s":"r","e":101.92,"v":0.90},{"s":"r","e":101.99,"v":0.89},{"s":"r","e":102.06,"v":0.89},{"s":"r","e":102.13,"v":0.89},{"s":"r","e":102.20,"v":0.88},{"s":"r","e":102.27,"v":0.87},{"s":"r","e":102.34,"v":0.88},{"s":"r","e":102.41,"v":0.88},{"s":"r","e":102.48,"v":0.88},{"s":"r","e":102.55,"v":0.88},{"s":"r","e":102.62,"v":0.89},{"s":"r","e":102.69,"v":0.89},{"s":"r","e":102.76,"v":0.89},{"s":"r","e":102.83,"v":0.90},{"s":"r","e":102.90,"v":0.89},{"s":"r","e":102.97,"v":0.90},{"s":"r","e":103.00,"v":0.89}
]
},
"hconcat": [
{
"vconcat": [
{
"width": 471, "height": 255, "view": {"stroke": null},
"encoding": {
"x": {"field": "n", "type": "quantitative", "scale": {"type": "log", "domain": [10, 1500], "nice": false},
 "axis": {"title": "Number of pulses per scanning point", "values": [10,20,30,40,50,60,70,80,90,100,200,300,400,500,600,700,800,900,1000],
  "labelExpr": "datum.value === 10 ? '10¹' : datum.value === 100 ? '10²' : datum.value === 1000 ? '10³' : ''",
  "labelFont": "Liberation Sans", "labelFontWeight": "bold", "labelFontSize": 22, "labelColor": "#222", "labelPadding": 20,
  "tickSize": -4, "tickColor": "#808080", "domainColor": "#808080",
  "titleFont": "Liberation Sans", "titleFontWeight": "bold", "titleFontSize": 24, "titleColor": "#222", "titleY": 61, "titleBaseline": "middle"}},
"y": {"field": "v", "type": "quantitative", "scale": {"domain": [0.02, 0.08], "nice": false, "zero": false},
 "axis": {"title": "⟨ϵ⟩", "values": [0.02, 0.04, 0.06, 0.08], "format": ".2f",
  "labelFont": "Liberation Sans", "labelFontWeight": "bold", "labelFontSize": 22, "labelColor": "#222", "labelPadding": 11,
  "tickSize": -4, "tickColor": "#808080", "domainColor": "#808080",
  "titleFont": "DejaVu Sans", "titleFontWeight": "normal", "titleFontSize": 24, "titleColor": "#222", "titleX": -65, "titleY": 128, "titleBaseline": "middle"}}
},
"layer": [
{"data": {"name": "a"}, "transform": [{"filter": "datum.s === 'GS'"}], "mark": {"type": "line", "color": "#0000ff", "strokeWidth": 1.5}},
{"data": {"name": "a"}, "transform": [{"filter": "datum.s === 'Seeded'"}], "mark": {"type": "line", "color": "#ff0000", "strokeWidth": 1.5}},
{"data": {"name": "a"}, "transform": [{"filter": "datum.s === 'GS' && datum.n <= 1000"}], "mark": {"type": "point", "shape": "circle", "filled": false, "size": 38, "color": "#0000ff", "strokeWidth": 1.2, "opacity": 1}},
{"data": {"name": "a"}, "transform": [{"filter": "datum.s === 'Seeded' && datum.n <= 1000"}], "mark": {"type": "point", "shape": "square", "filled": false, "size": 30, "color": "#ff0000", "strokeWidth": 1.2, "opacity": 1}},
{"data": {"values": [{"n": 71, "v": 0.0722, "t": "(a)"}]}, "mark": {"type": "text", "font": "Liberation Sans", "fontSize": 24, "color": "#111"}, "encoding": {"text": {"field": "t"}}}
]
},
{
"width": 471, "height": 266, "view": {"stroke": null},
"encoding": {
"x": {"field": "n", "type": "quantitative", "scale": {"type": "log", "domain": [10, 1500], "nice": false},
 "axis": {"title": "Number of pulses per scanning point", "values": [10,20,30,40,50,60,70,80,90,100,200,300,400,500,600,700,800,900,1000],
  "labelExpr": "datum.value === 10 ? '10¹' : datum.value === 100 ? '10²' : datum.value === 1000 ? '10³' : ''",
  "labelFont": "Liberation Sans", "labelFontWeight": "bold", "labelFontSize": 22, "labelColor": "#222", "labelPadding": 20,
  "tickSize": -4, "tickColor": "#808080", "domainColor": "#808080",
  "titleFont": "Liberation Sans", "titleFontWeight": "bold", "titleFontSize": 24, "titleColor": "#222", "titleY": 62, "titleBaseline": "middle"}},
"y": {"field": "v", "type": "quantitative", "scale": {"domain": [0, 0.08], "nice": false},
 "axis": {"title": "CF", "values": [0, 0.02, 0.04, 0.06, 0.08], "labelExpr": "datum.value === 0 ? '0' : format(datum.value, '.2f')",
  "labelFont": "Liberation Sans", "labelFontWeight": "bold", "labelFontSize": 22, "labelColor": "#222", "labelPadding": 13,
  "tickSize": -4, "tickColor": "#808080", "domainColor": "#808080",
  "titleFont": "Liberation Sans", "titleFontWeight": "bold", "titleFontSize": 28, "titleColor": "#222", "titleX": -77, "titleY": 133, "titleBaseline": "middle"}}
},
"layer": [
{"data": {"name": "b"}, "mark": {"type": "line", "strokeWidth": 1.5},
 "encoding": {
  "color": {"field": "s", "type": "nominal", "scale": {"domain": ["GS 35 meV", "GS 75 meV", "Seeded"], "range": ["#0000ff", "#0000ff", "#ff0000"]},
   "legend": {"orient": "none", "legendX": 240, "legendY": 362, "title": null, "labelFont": "Liberation Sans", "labelFontWeight": "bold", "labelFontSize": 21, "labelColor": "#111", "labelOffset": 1, "rowPadding": 6,
    "symbolType": "M-1,0H-0.32M0.32,0H1M0.32,0A0.32,0.32,0,1,1,-0.32,0A0.32,0.32,0,1,1,0.32,0", "symbolSize": 484, "symbolStrokeWidth": 1.5,
    "encode": {"symbols": {"update": {"shape": {"signal": "datum.value === 'Seeded' ? 'M-1,0H-0.27M0.27,0H1M-0.27,-0.27H0.27V0.27H-0.27Z' : 'M-1,0H-0.32M0.32,0H1M0.32,0A0.32,0.32,0,1,1,-0.32,0A0.32,0.32,0,1,1,0.32,0'"}, "fill": {"value": "transparent"}}}}}},
  "strokeDash": {"field": "s", "type": "nominal", "scale": {"domain": ["GS 35 meV", "GS 75 meV", "Seeded"], "range": [[1, 0], [5, 3], [1, 0]]}}
 }},
{"data": {"name": "b"}, "transform": [{"filter": "datum.s !== 'Seeded' && datum.n <= 1000"}], "mark": {"type": "point", "shape": "circle", "filled": false, "size": 38, "color": "#0000ff", "strokeWidth": 1.2, "opacity": 1}},
{"data": {"name": "b"}, "transform": [{"filter": "datum.s === 'Seeded' && datum.n <= 1000"}], "mark": {"type": "point", "shape": "square", "filled": false, "size": 30, "color": "#ff0000", "strokeWidth": 1.2, "opacity": 1}},
{"data": {"values": [{"n": 72, "v": 0.0629, "t": "(b)"}]}, "mark": {"type": "text", "font": "Liberation Sans", "fontSize": 24, "color": "#111"}, "encoding": {"text": {"field": "t"}}}
]
}
],
"spacing": 88, "bounds": "flush"
},
{
"concat": [
{"width": 276, "height": 118,
"encoding": {
"x": {"field": "e", "type": "quantitative", "scale": {"domain": [99, 103], "nice": false, "zero": false}, "axis": {"title": "Energy (eV)", "values": [99,100,101,102,103], "format": "d", "domain": false, "labelFont": "Liberation Sans", "labelFontSize": 22, "labelColor": "#222", "labelPadding": 17, "tickSize": -4, "tickColor": "#808080", "titleFont": "Liberation Sans", "titleFontWeight": "normal", "titleFontSize": 28, "titleColor": "#222", "titleY": 66, "titleBaseline": "middle"}},
"y": {"field": "v", "type": "quantitative", "scale": {"domain": [0.2, 1], "nice": false, "zero": false}, "axis": {"title": "Absorption", "values": [0.5, 1], "labelExpr": "datum.value === 1 ? '1' : '0.5'", "domain": false, "labelFont": "Liberation Sans", "labelFontSize": 22, "labelColor": "#222", "labelPadding": 16, "tickSize": -4, "tickColor": "#808080", "titleFont": "Liberation Sans", "titleFontWeight": "normal", "titleFontSize": 28, "titleColor": "#222", "titleX": -66, "titleY": 59, "titleBaseline": "middle"}}
},
"layer": [
{"data": {"name": "c"}, "transform": [{"filter": "datum.s === 'b'"}], "mark": {"type": "circle", "size": 22, "color": "#0000ff", "opacity": 1}},
{"data": {"name": "c"}, "transform": [{"filter": "datum.s === 'r'"}], "mark": {"type": "square", "size": 24, "color": "#ff0000", "opacity": 1}},
{"data": {"name": "th"}, "mark": {"type": "line", "color": "#ff00ff", "strokeWidth": 2.5, "interpolate": "monotone"}},
{"data": {"values": [{"e": 101.16, "v": 0.575, "t": "(c)"}]}, "mark": {"type": "text", "font": "Liberation Sans", "fontSize": 23, "color": "#111"}, "encoding": {"text": {"field": "t"}}},
{"data": {"values": [{"e": 102.97, "v": 0.31, "t": "10 pulses"}]}, "mark": {"type": "text", "font": "Lato", "fontWeight": "bold", "fontSize": 21, "align": "right", "color": "#000"}, "encoding": {"text": {"field": "t"}}}
]},
{"width": 276, "height": 118,
"encoding": {
"x": {"field": "e", "type": "quantitative", "scale": {"domain": [99, 103], "nice": false, "zero": false}, "axis": {"title": "Energy (eV)", "values": [99,100,101,102,103], "format": "d", "domain": false, "labelFont": "Liberation Sans", "labelFontSize": 22, "labelColor": "#222", "labelPadding": 17, "tickSize": -4, "tickColor": "#808080", "titleFont": "Liberation Sans", "titleFontWeight": "normal", "titleFontSize": 28, "titleColor": "#222", "titleY": 66, "titleBaseline": "middle"}},
"y": {"field": "v", "type": "quantitative", "scale": {"domain": [0.2, 1], "nice": false, "zero": false}, "axis": {"title": "Absorption", "values": [0.5, 1], "labelExpr": "datum.value === 1 ? '1' : '0.5'", "domain": false, "labelFont": "Liberation Sans", "labelFontSize": 22, "labelColor": "#222", "labelPadding": 16, "tickSize": -4, "tickColor": "#808080", "titleFont": "Liberation Sans", "titleFontWeight": "normal", "titleFontSize": 28, "titleColor": "#222", "titleX": -66, "titleY": 59, "titleBaseline": "middle"}}
},
"layer": [
{"data": {"name": "d"}, "transform": [{"filter": "datum.s === 'b'"}], "mark": {"type": "circle", "size": 22, "color": "#0000ff", "opacity": 1}},
{"data": {"name": "d"}, "transform": [{"filter": "datum.s === 'r'"}], "mark": {"type": "square", "size": 24, "color": "#ff0000", "opacity": 1}},
{"data": {"name": "th"}, "mark": {"type": "line", "color": "#ff00ff", "strokeWidth": 2.5, "interpolate": "monotone"}},
{"data": {"values": [{"e": 101.14, "v": 0.575, "t": "(d)"}]}, "mark": {"type": "text", "font": "Liberation Sans", "fontSize": 23, "color": "#111"}, "encoding": {"text": {"field": "t"}}},
{"data": {"values": [{"e": 102.8, "v": 0.3, "t": "50 pulses"}]}, "mark": {"type": "text", "font": "Lato", "fontWeight": "bold", "fontSize": 21, "align": "right", "color": "#000"}, "encoding": {"text": {"field": "t"}}}
]},
{"width": 276, "height": 118,
"encoding": {
"x": {"field": "e", "type": "quantitative", "scale": {"domain": [99, 103], "nice": false, "zero": false}, "axis": {"title": "Energy (eV)", "values": [99,100,101,102,103], "format": "d", "domain": false, "labelFont": "Liberation Sans", "labelFontSize": 22, "labelColor": "#222", "labelPadding": 17, "tickSize": -4, "tickColor": "#808080", "titleFont": "Liberation Sans", "titleFontWeight": "normal", "titleFontSize": 28, "titleColor": "#222", "titleY": 66, "titleBaseline": "middle"}},
"y": {"field": "v", "type": "quantitative", "scale": {"domain": [0.2, 1], "nice": false, "zero": false}, "axis": {"title": "Absorption", "values": [0.5, 1], "labelExpr": "datum.value === 1 ? '1' : '0.5'", "domain": false, "labelFont": "Liberation Sans", "labelFontSize": 22, "labelColor": "#222", "labelPadding": 16, "tickSize": -4, "tickColor": "#808080", "titleFont": "Liberation Sans", "titleFontWeight": "normal", "titleFontSize": 28, "titleColor": "#222", "titleX": -66, "titleY": 59, "titleBaseline": "middle"}}
},
"layer": [
{"data": {"name": "e"}, "transform": [{"filter": "datum.s === 'b'"}], "mark": {"type": "circle", "size": 22, "color": "#0000ff", "opacity": 1}},
{"data": {"name": "e"}, "transform": [{"filter": "datum.s === 'r'"}], "mark": {"type": "square", "size": 24, "color": "#ff0000", "opacity": 1}},
{"data": {"name": "th"}, "mark": {"type": "line", "color": "#ff00ff", "strokeWidth": 2.5, "interpolate": "monotone"}},
{"data": {"values": [{"e": 101.16, "v": 0.598, "t": "(e)"}]}, "mark": {"type": "text", "font": "Liberation Sans", "fontSize": 23, "color": "#111"}, "encoding": {"text": {"field": "t"}}},
{"data": {"values": [{"e": 102.97, "v": 0.345, "t": "100 pulses"}]}, "mark": {"type": "text", "font": "Lato", "fontWeight": "bold", "fontSize": 21, "align": "right", "color": "#000"}, "encoding": {"text": {"field": "t"}}}
]},
{"width": 276, "height": 118,
"encoding": {
"x": {"field": "e", "type": "quantitative", "scale": {"domain": [99, 103], "nice": false, "zero": false}, "axis": {"title": "Energy (eV)", "values": [99,100,101,102,103], "format": "d", "domain": false, "labelFont": "Liberation Sans", "labelFontSize": 22, "labelColor": "#222", "labelPadding": 17, "tickSize": -4, "tickColor": "#808080", "titleFont": "Liberation Sans", "titleFontWeight": "normal", "titleFontSize": 28, "titleColor": "#222", "titleY": 66, "titleBaseline": "middle"}},
"y": {"field": "v", "type": "quantitative", "scale": {"domain": [0.2, 1], "nice": false, "zero": false}, "axis": {"title": "Absorption", "values": [0.5, 1], "labelExpr": "datum.value === 1 ? '1' : '0.5'", "domain": false, "labelFont": "Liberation Sans", "labelFontSize": 22, "labelColor": "#222", "labelPadding": 16, "tickSize": -4, "tickColor": "#808080", "titleFont": "Liberation Sans", "titleFontWeight": "normal", "titleFontSize": 28, "titleColor": "#222", "titleX": -66, "titleY": 59, "titleBaseline": "middle"}}
},
"layer": [
{"data": {"name": "f"}, "transform": [{"filter": "datum.s === 'b'"}], "mark": {"type": "circle", "size": 22, "color": "#0000ff", "opacity": 1}},
{"data": {"name": "f"}, "transform": [{"filter": "datum.s === 'r'"}], "mark": {"type": "square", "size": 24, "color": "#ff0000", "opacity": 1}},
{"data": {"name": "th"}, "mark": {"type": "line", "color": "#ff00ff", "strokeWidth": 2.5, "interpolate": "monotone"}},
{"data": {"values": [{"e": 101.07, "v": 0.598, "t": "(f)"}]}, "mark": {"type": "text", "font": "Liberation Sans", "fontSize": 23, "color": "#111"}, "encoding": {"text": {"field": "t"}}},
{"data": {"values": [{"e": 102.86, "v": 0.345, "t": "300 pulses"}]}, "mark": {"type": "text", "font": "Lato", "fontWeight": "bold", "fontSize": 21, "align": "right", "color": "#000"}, "encoding": {"text": {"field": "t"}}}
]},
{"width": 276, "height": 118,
"encoding": {
"x": {"field": "e", "type": "quantitative", "scale": {"domain": [99, 103], "nice": false, "zero": false}, "axis": {"title": "Energy (eV)", "values": [99,100,101,102,103], "format": "d", "domain": false, "labelFont": "Liberation Sans", "labelFontSize": 22, "labelColor": "#222", "labelPadding": 17, "tickSize": -4, "tickColor": "#808080", "titleFont": "Liberation Sans", "titleFontWeight": "normal", "titleFontSize": 28, "titleColor": "#222", "titleY": 66, "titleBaseline": "middle"}},
"y": {"field": "v", "type": "quantitative", "scale": {"domain": [0.2, 1], "nice": false, "zero": false}, "axis": {"title": "Absorption", "values": [0.5, 1], "labelExpr": "datum.value === 1 ? '1' : '0.5'", "domain": false, "labelFont": "Liberation Sans", "labelFontSize": 22, "labelColor": "#222", "labelPadding": 16, "tickSize": -4, "tickColor": "#808080", "titleFont": "Liberation Sans", "titleFontWeight": "normal", "titleFontSize": 28, "titleColor": "#222", "titleX": -66, "titleY": 59, "titleBaseline": "middle"}}
},
"layer": [
{"data": {"name": "g"}, "transform": [{"filter": "datum.s === 'b'"}], "mark": {"type": "circle", "size": 22, "color": "#0000ff", "opacity": 1}},
{"data": {"name": "g"}, "transform": [{"filter": "datum.s === 'r'"}], "mark": {"type": "square", "size": 24, "color": "#ff0000", "opacity": 1}},
{"data": {"name": "th"}, "mark": {"type": "line", "color": "#ff00ff", "strokeWidth": 2.5, "interpolate": "monotone"}},
{"data": {"values": [{"e": 101.16, "v": 0.618, "t": "(g)"}]}, "mark": {"type": "text", "font": "Liberation Sans", "fontSize": 23, "color": "#111"}, "encoding": {"text": {"field": "t"}}},
{"data": {"values": [{"e": 102.96, "v": 0.324, "t": "1000 pulses"}]}, "mark": {"type": "text", "font": "Lato", "fontWeight": "bold", "fontSize": 21, "align": "right", "color": "#000"}, "encoding": {"text": {"field": "t"}}}
]},
{"width": 276, "height": 118,
"encoding": {
"x": {"field": "e", "type": "quantitative", "scale": {"domain": [99, 103], "nice": false, "zero": false}, "axis": {"title": "Energy (eV)", "values": [99,100,101,102,103], "format": "d", "domain": false, "labelFont": "Liberation Sans", "labelFontSize": 22, "labelColor": "#222", "labelPadding": 17, "tickSize": -4, "tickColor": "#808080", "titleFont": "Liberation Sans", "titleFontWeight": "normal", "titleFontSize": 28, "titleColor": "#222", "titleY": 66, "titleBaseline": "middle"}},
"y": {"field": "v", "type": "quantitative", "scale": {"domain": [0.2, 1], "nice": false, "zero": false}, "axis": {"title": "Absorption", "values": [0.5, 1], "labelExpr": "datum.value === 1 ? '1' : '0.5'", "domain": false, "labelFont": "Liberation Sans", "labelFontSize": 22, "labelColor": "#222", "labelPadding": 16, "tickSize": -4, "tickColor": "#808080", "titleFont": "Liberation Sans", "titleFontWeight": "normal", "titleFontSize": 28, "titleColor": "#222", "titleX": -66, "titleY": 59, "titleBaseline": "middle"}}
},
"layer": [
{"data": {"name": "h"}, "transform": [{"filter": "datum.s === 'b'"}], "mark": {"type": "circle", "size": 22, "color": "#0000ff", "opacity": 1}},
{"data": {"name": "h"}, "transform": [{"filter": "datum.s === 'r'"}], "mark": {"type": "square", "size": 24, "color": "#ff0000", "opacity": 1}},
{"data": {"name": "th"}, "mark": {"type": "line", "color": "#ff00ff", "strokeWidth": 2.5, "interpolate": "monotone"}},
{"data": {"values": [{"e": 101.04, "v": 0.618, "t": "(h)"}]}, "mark": {"type": "text", "font": "Liberation Sans", "fontSize": 23, "color": "#111"}, "encoding": {"text": {"field": "t"}}},
{"data": {"values": [{"e": 102.9, "v": 0.3, "t": "2000 pulses"}]}, "mark": {"type": "text", "font": "Lato", "fontWeight": "bold", "fontSize": 21, "align": "right", "color": "#000"}, "encoding": {"text": {"field": "t"}}}
]}
],
"columns": 2, "spacing": {"row": 127, "column": 92}, "bounds": "flush"
}
],
"spacing": 21
}
